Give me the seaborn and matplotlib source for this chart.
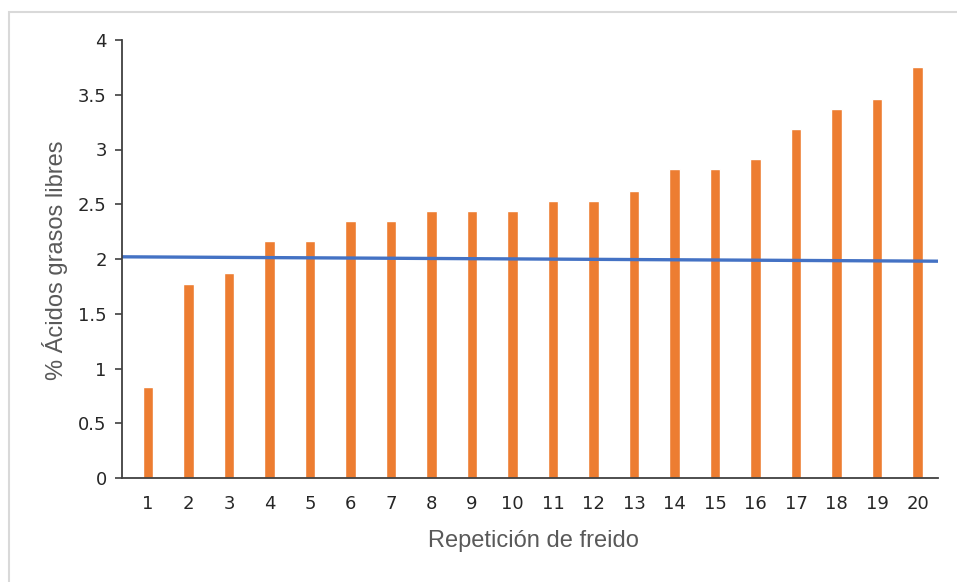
import matplotlib
matplotlib.use("Agg")
import matplotlib.pyplot as plt
from matplotlib.patches import Rectangle
import seaborn as sns
import pandas as pd

# Free fatty acid content per frying repetition
repeticiones = [str(i) for i in range(1, 21)]
acidos = [0.83, 1.77, 1.87, 2.16, 2.16, 2.35, 2.35, 2.44, 2.44, 2.44,
          2.53, 2.53, 2.62, 2.82, 2.82, 2.91, 3.19, 3.37, 3.46, 3.75]

# Reference line (start and end values across the axis)
referencia = [2.02, 1.98]

y_ticks = [0, 0.5, 1, 1.5, 2, 2.5, 3, 3.5, 4]
y_tick_labels = ["0", "0.5", "1", "1.5", "2", "2.5", "3", "3.5", "4"]

sns.set_theme(style="white")
plt.rcParams["font.family"] = ["DejaVu Sans"]

df = pd.DataFrame({"rep": repeticiones, "afl": acidos})

W, H = 957, 582
fig = plt.figure(figsize=(W / 100, H / 100), dpi=100)
fig.patch.set_facecolor("white")

# Light frame around the chart area
fig.add_artist(Rectangle((9 / W, -0.05), 1.2, 1 - 12 / H + 0.05,
                         transform=fig.transFigure, fill=False,
                         edgecolor="#d9d9d9", linewidth=1.5))

ax = fig.add_axes([122 / W, 1 - 478 / H, (938 - 122) / W, (478 - 40) / H])

sns.barplot(data=df, x="rep", y="afl", color="#ED7D31", width=0.26,
            saturation=1, ax=ax)

x0, x1 = -0.64, len(repeticiones) - 0.5
ax.plot([x0, x1], referencia, color="#4472C4",
        linewidth=2.4, solid_capstyle="butt")

ax.set_xlim(x0, x1)
ax.set_ylim(0, 4)
ax.set_yticks(y_ticks)
ax.set_yticklabels(y_tick_labels)

for side in ["top", "right"]:
    ax.spines[side].set_visible(False)
for side in ["left", "bottom"]:
    ax.spines[side].set_color("#404040")
    ax.spines[side].set_linewidth(1.3)

ax.tick_params(axis="y", which="both", left=True, length=5, width=1.2,
               color="#404040", labelsize=13, labelcolor="#262626", pad=6)
ax.tick_params(axis="x", which="both", bottom=False, length=0,
               labelsize=13, labelcolor="#262626", pad=12)

lab_font = ["Liberation Sans", "DejaVu Sans"]
ax.set_xlabel("Repetición de freido", fontsize=17, color="#595959",
              family=lab_font)
ax.set_ylabel("% Ácidos grasos libres", fontsize=17, color="#595959",
              family=lab_font)
ax.xaxis.label.set_va("center")
ax.yaxis.label.set_va("center")
ax.xaxis.set_label_coords(0.504, -0.144)
ax.yaxis.set_label_coords(-0.082, 0.498)

fig.savefig("out.png", dpi=100, facecolor="white")
